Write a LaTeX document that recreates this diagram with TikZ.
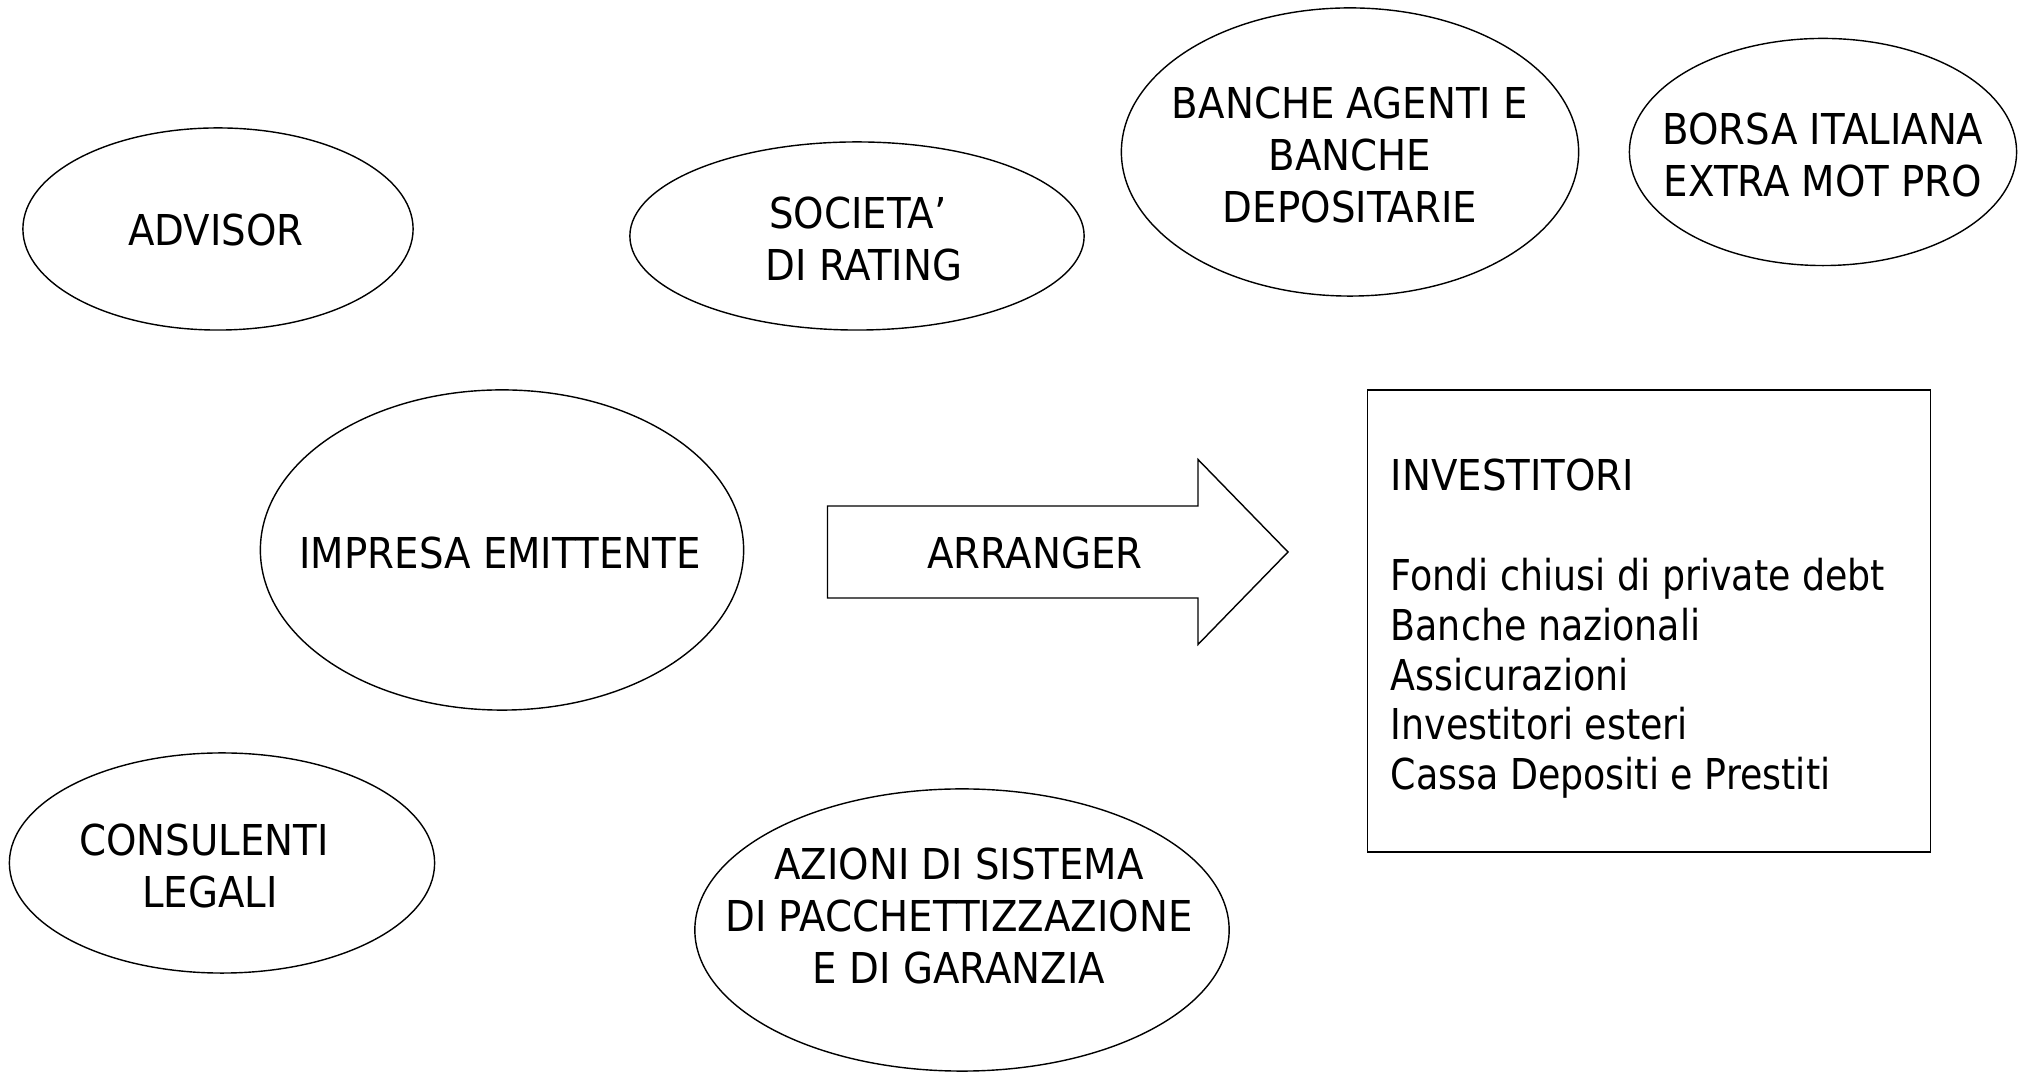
\documentclass[tikz,border=0pt]{standalone}
\usepackage{fontspec}
\setmainfont{DejaVu Sans}[FakeStretch=0.91]
\newfontfamily\listfont{DejaVu Sans}[FakeStretch=0.855]
\usetikzlibrary{shapes.geometric}

\begin{document}
\begin{tikzpicture}[x=0.01cm, y=-0.01cm, every node/.style={
	align=center
	, font=\fontsize{12.1}{14.9}\selectfont
%	, draw
}, oval/.style={
	ellipse
	, draw
	, inner sep=0pt
}, thin]

\useasboundingbox (0,0) rectangle (2018,1074);

% ovali
\node[oval, minimum width=3.90cm, minimum height=2.02cm](advisor) at(218,229) {};
\node[oval, minimum width=4.54cm, minimum height=1.88cm](rating) at(857,236) {};
\node[oval, minimum width=4.57cm, minimum height=2.88cm](banche) at(1350,152) {};
\node[oval, minimum width=3.87cm, minimum height=2.27cm](borsa) at(1823,152) {};
\node[oval, minimum width=4.83cm, minimum height=3.20cm](impresa) at(502,550) {};
\node[oval, minimum width=4.25cm, minimum height=2.20cm](legali) at(222,863) {};
\node[oval, minimum width=5.34cm, minimum height=2.82cm](azioni) at(962,930) {};

% testi
\node(advisor-txt) at(216,230) {ADVISOR};
\node(rating-txt) at(858,239) {SOCIETA’\\~DI RATING};
\node(banche-txt) at(1350,155) {BANCHE AGENTI E\\BANCHE\\DEPOSITARIE};
\node(borsa-txt) at(1823,155) {BORSA ITALIANA\\EXTRA MOT PRO};
\node(impresa-txt) at(500,553) {IMPRESA EMITTENTE};
\node(legali-txt) at(204,866) {CONSULENTI~\\~LEGALI};
\node(azioni-txt) at(959,916) {AZIONI DI SISTEMA\\DI PACCHETTIZZAZIONE\\E DI GARANZIA};

% freccia
\node(arranger) at(1035,553) {ARRANGER};
\draw (827.5,506) -| (1198,459.5) -- (1288,552) -- (1198,644.5) |- (827.5,598) -- cycle;

% riquadro investitori
\node[draw, minimum width=5.625cm, minimum height=4.62cm](investitori) at(1649,621) {};
\node[anchor=north west, inner sep=0pt, align=left, font=\fontsize{12.1}{14.2}\selectfont](investitori-txt) at(1390,458) {INVESTITORI\\[14.2pt]
	{\listfont Fondi chiusi di private debt}\\
	{\listfont Banche nazionali}\\
	{\listfont Assicurazioni}\\
	{\listfont Investitori esteri}\\
	{\listfont Cassa Depositi e Prestiti}};

\end{tikzpicture}
\end{document}
